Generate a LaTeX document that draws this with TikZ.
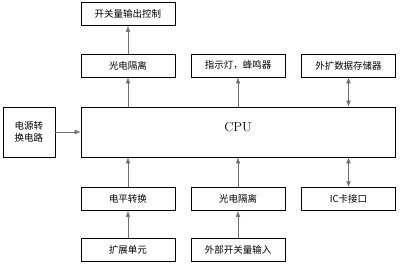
\documentclass[tikz,border=0pt]{standalone}
\usepackage{fontspec}
\newfontfamily\cjk{Noto Sans CJK SC}
\usetikzlibrary{arrows.meta}
\definecolor{linkGray}{RGB}{110,110,110}

\begin{document}
\begin{tikzpicture}[x=1pt, y=-1pt,
    blk/.style={draw, thick, minimum width=94pt, minimum height=23pt, inner sep=0pt, font=\cjk\fontsize{9.5}{12}\selectfont},
    link/.style={linkGray, -{Latex[length=6pt, width=4.5pt]}},
    dlink/.style={linkGray, {Latex[length=6pt, width=4.5pt]}-{Latex[length=6pt, width=4.5pt]}}]
    \useasboundingbox (0,0) rectangle (400,264);
    \node[blk] (out) at (128,14) {开关量输出控制};
    \node[blk] (isoUp) at (128,65.5) {光电隔离};
    \node[blk] (led) at (238,65.5) {指示灯，蜂鸣器};
    \node[blk] (mem) at (348.5,65.5) {外扩数据存储器};
    \node[draw, thick, minimum width=314pt, minimum height=50pt] (cpu) at (238,132) {};
    \node[font=\fontsize{13}{15}\selectfont] (cpuText) at (238,127) {CPU};
    \node[blk, minimum width=52pt, minimum height=50pt, align=left] (pwr) at (29,132) {电源转\\换电路};
    \node[blk] (lvl) at (128,199) {电平转换};
    \node[blk] (isoDown) at (238,199) {光电隔离};
    \node[blk] (ic) at (348.5,199) {IC卡接口};
    \node[blk] (ext) at (128,250) {扩展单元};
    \node[blk] (inp) at (238,250) {外部开关量输入};
    \draw[link] (isoUp) -- (out);
    \draw[link] (cpu.north -| isoUp.south) -- (isoUp);
    \draw[link] (cpu.north -| led.south) -- (led);
    \draw[dlink] (cpu.north -| mem.south) -- (mem);
    \draw[link] (pwr) -- (pwr -| cpu.west);
    \draw[link] (lvl) -- (lvl.north |- cpu.south);
    \draw[link] (isoDown) -- (isoDown.north |- cpu.south);
    \draw[dlink] (ic) -- (ic.north |- cpu.south);
    \draw[link] (ext) -- (lvl);
    \draw[link] (inp) -- (isoDown);
  \end{tikzpicture}
\end{document}
